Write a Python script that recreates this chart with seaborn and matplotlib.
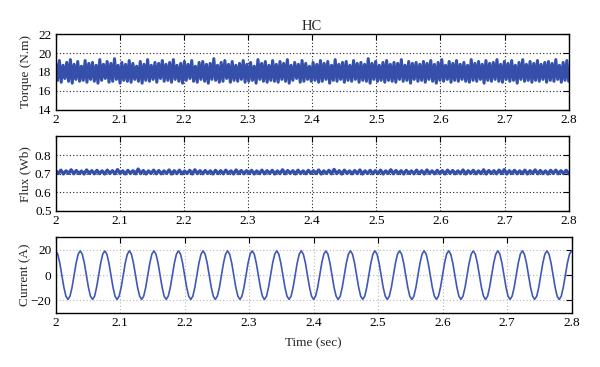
import numpy as np
import matplotlib
matplotlib.use("Agg")
import matplotlib.pyplot as plt
import seaborn as sns

# ---------------- data ----------------
T_START, T_END = 2.0, 2.8

torque = [
    18.9, 17.1, 19.2, 16.9, 18.7, 17.3, 19.0, 17.0, 19.3, 16.8, 18.8, 17.2, 19.1, 17.0, 18.6, 17.1, 19.2, 16.9, 18.9, 17.2,
    19.0, 17.0, 18.7, 16.8, 19.3, 17.1, 18.8, 17.3, 19.1, 16.9, 18.9, 17.0, 19.4, 17.2, 18.7, 16.8, 19.0, 17.1, 18.8, 17.0,
    19.2, 16.9, 18.9, 17.2, 18.6, 17.0, 19.1, 16.8, 18.8, 17.1, 19.3, 17.0, 18.7, 17.2, 19.0, 16.9, 18.9, 17.3, 19.2, 17.0,
    18.8, 17.1, 19.0, 16.9, 19.3, 17.2, 18.7, 17.0, 18.9, 16.8, 19.1, 17.1, 18.8, 17.3, 19.2, 17.0, 18.6, 16.9, 19.0, 17.2,
    19.1, 17.0, 18.8, 16.8, 18.9, 17.2, 19.4, 17.1, 18.7, 16.9, 19.0, 17.0, 19.2, 17.3, 18.8, 16.9, 19.1, 17.1, 18.7, 17.0,
    18.9, 17.2, 19.2, 16.9, 18.8, 17.0, 19.0, 17.1, 18.6, 16.8, 19.3, 17.2, 18.9, 17.0, 19.1, 16.9, 18.7, 17.1, 19.2, 17.0,
    18.8, 16.9, 19.1, 17.2, 18.9, 17.0, 19.3, 16.8, 18.7, 17.1, 19.0, 17.3, 18.8, 16.9, 19.2, 17.0, 18.9, 17.2, 18.6, 17.0,
    19.0, 17.1, 18.8, 16.9, 19.2, 17.0, 18.9, 17.2, 19.1, 16.8, 18.7, 17.1, 19.3, 17.0, 18.8, 17.2, 19.0, 16.9, 19.1, 17.1,
    18.7, 17.0, 19.2, 17.2, 18.9, 16.9, 19.0, 17.1, 18.8, 17.0, 19.4, 16.8, 18.9, 17.2, 19.1, 17.0, 18.7, 17.1, 19.0, 16.9,
    19.2, 17.1, 18.8, 17.0, 19.0, 16.9, 18.9, 17.2, 19.3, 17.0, 18.7, 17.1, 19.1, 16.8, 18.9, 17.2, 19.0, 17.0, 18.8, 17.1,
    19.1, 16.9, 18.9, 17.2, 19.2, 17.0, 18.8, 16.8, 19.0, 17.1, 19.3, 17.0, 18.7, 17.2, 19.1, 16.9, 18.9, 17.1, 19.2, 17.0,
    18.8, 17.2, 19.0, 17.0, 18.7, 16.9, 19.3, 17.1, 18.9, 17.0, 19.1, 17.2, 18.8, 16.8, 19.2, 17.1, 18.9, 17.0, 19.0, 17.2,
    19.3, 17.0, 18.8, 16.9, 19.1, 17.2, 18.9, 17.0, 19.2, 17.1, 18.7, 16.8, 19.0, 17.2, 19.3, 17.0, 18.8, 17.1, 19.1, 16.9,
    18.9, 17.1, 19.2, 17.0, 18.8, 17.2, 19.0, 16.9, 19.1, 17.1, 18.9, 17.0, 19.3, 17.2, 18.7, 16.9, 19.0, 17.1, 19.2, 17.0,
]

flux = [
    0.716, 0.701, 0.719, 0.699, 0.715, 0.702, 0.721, 0.700, 0.717, 0.701, 0.714, 0.699, 0.720, 0.702, 0.716, 0.700, 0.718, 0.701, 0.715, 0.699,
    0.719, 0.702, 0.716, 0.700, 0.722, 0.701, 0.715, 0.699, 0.718, 0.702, 0.716, 0.700, 0.725, 0.701, 0.717, 0.699, 0.715, 0.702, 0.719, 0.700,
    0.717, 0.700, 0.715, 0.702, 0.720, 0.699, 0.716, 0.701, 0.719, 0.700, 0.714, 0.702, 0.718, 0.699, 0.721, 0.701, 0.716, 0.700, 0.717, 0.702,
    0.715, 0.699, 0.718, 0.701, 0.716, 0.700, 0.719, 0.702, 0.715, 0.699, 0.720, 0.701, 0.717, 0.700, 0.716, 0.702, 0.718, 0.699, 0.715, 0.701,
    0.719, 0.700, 0.716, 0.702, 0.718, 0.699, 0.715, 0.701, 0.721, 0.700, 0.717, 0.702, 0.716, 0.699, 0.719, 0.701, 0.715, 0.700, 0.718, 0.702,
    0.716, 0.701, 0.720, 0.699, 0.715, 0.702, 0.718, 0.700, 0.723, 0.701, 0.716, 0.699, 0.719, 0.702, 0.715, 0.700, 0.717, 0.701, 0.720, 0.699,
    0.715, 0.702, 0.718, 0.700, 0.716, 0.701, 0.719, 0.699, 0.715, 0.702, 0.721, 0.700, 0.717, 0.701, 0.716, 0.699, 0.718, 0.702, 0.715, 0.700,
    0.719, 0.701, 0.716, 0.699, 0.720, 0.702, 0.715, 0.700, 0.718, 0.701, 0.716, 0.699, 0.719, 0.702, 0.717, 0.700, 0.715, 0.701, 0.720, 0.699,
    0.716, 0.702, 0.718, 0.700, 0.715, 0.701, 0.721, 0.699, 0.717, 0.702, 0.716, 0.700, 0.719, 0.701, 0.722, 0.699, 0.716, 0.702, 0.718, 0.700,
    0.715, 0.701, 0.719, 0.699, 0.716, 0.702, 0.720, 0.700, 0.717, 0.701, 0.715, 0.699, 0.718, 0.702, 0.719, 0.700, 0.716, 0.701, 0.718, 0.700,
]

current = [
    19.3, 16.7, 9.7, 0.0, -9.6, -16.6, -19.2, -16.6, -9.6, 0.1, 9.7, 16.7,
    19.3, 16.6, 9.6, -0.1, -9.7, -16.7, -19.2, -16.7, -9.6, 0.0, 9.6, 16.7,
    19.2, 16.7, 9.7, 0.0, -9.6, -16.7, -19.3, -16.6, -9.7, 0.1, 9.7, 16.6,
    19.3, 16.7, 9.6, 0.0, -9.7, -16.6, -19.2, -16.7, -9.6, 0.0, 9.7, 16.7,
    19.3, 16.6, 9.7, -0.1, -9.6, -16.7, -19.2, -16.6, -9.7, 0.1, 9.6, 16.7,
    19.2, 16.7, 9.6, 0.0, -9.7, -16.6, -19.3, -16.7, -9.6, 0.0, 9.7, 16.6,
    19.3, 16.7, 9.7, 0.1, -9.6, -16.7, -19.2, -16.6, -9.7, -0.1, 9.6, 16.7,
    19.3, 16.6, 9.6, 0.0, -9.7, -16.6, -19.2, -16.7, -9.6, 0.1, 9.7, 16.7,
    19.2, 16.7, 9.7, 0.0, -9.6, -16.7, -19.3, -16.6, -9.6, 0.0, 9.6, 16.6,
    19.3, 16.7, 9.6, -0.1, -9.7, -16.6, -19.2, -16.7, -9.7, 0.1, 9.7, 16.7,
    19.3, 16.6, 9.7, 0.0, -9.6, -16.7, -19.2, -16.6, -9.6, 0.0, 9.7, 16.7,
    19.2, 16.7, 9.6, 0.1, -9.7, -16.6, -19.3, -16.7, -9.7, -0.1, 9.6, 16.6,
    19.3, 16.7, 9.7, 0.0, -9.6, -16.7, -19.2, -16.6, -9.6, 0.1, 9.7, 16.7,
    19.3, 16.6, 9.6, 0.0, -9.7, -16.6, -19.2, -16.7, -9.6, 0.0, 9.6, 16.7,
    19.2, 16.7, 9.7, -0.1, -9.6, -16.7, -19.3, -16.6, -9.7, 0.1, 9.7, 16.6,
    19.3, 16.7, 9.6, 0.0, -9.7, -16.6, -19.2, -16.7, -9.6, 0.0, 9.7, 16.7,
    19.3, 16.6, 9.7, 0.1, -9.6, -16.7, -19.2, -16.6, -9.7, -0.1, 9.6, 16.7,
    19.2, 16.7, 9.6, 0.0, -9.7, -16.6, -19.3, -16.7, -9.6, 0.1, 9.7, 16.6,
    19.3, 16.7, 9.7, 0.0, -9.6, -16.7, -19.2, -16.6, -9.6, 0.0, 9.6, 16.7,
    19.3, 16.6, 9.6, -0.1, -9.7, -16.6, -19.2, -16.7, -9.7, 0.1, 9.7, 16.7,
    19.2, 16.7, 9.7, 0.0, -9.6, -16.7, -19.3, -16.6, -9.6, 0.0, 9.6, 16.6,
    19.3,
]

x_ticks = [2.0, 2.1, 2.2, 2.3, 2.4, 2.5, 2.6, 2.7, 2.8]
x_tick_labels = ["2", "2.1", "2.2", "2.3", "2.4", "2.5", "2.6", "2.7", "2.8"]
torque_ticks = [14, 16, 18, 20, 22]
flux_ticks = [0.5, 0.6, 0.7, 0.8]
flux_tick_labels = ["0.5", "0.6", "0.7", "0.8"]
current_ticks = [-20, 0, 20]

# sample times (uniform sampling of each recorded signal)
t_torque = np.linspace(T_START, T_END, len(torque))
t_flux = np.linspace(T_START, T_END, len(flux))
t_current = np.linspace(T_START, T_END, len(current))

# ---------------- style ----------------
sns.set_style("white")
plt.rcParams["font.family"] = ["Liberation Serif", "DejaVu Serif"]
plt.rcParams["axes.linewidth"] = 1.0

BLUE = "#3550ab"
BLUE_C = "#4058b8"
FS = 9.5

fig = plt.figure(figsize=(6, 3.67), dpi=100)
ax1 = fig.add_axes([0.0928, 0.7016, 0.855, 0.2052])
ax2 = fig.add_axes([0.0928, 0.4251, 0.855, 0.2030])
ax3 = fig.add_axes([0.0928, 0.1471, 0.8597, 0.2063])

sns.lineplot(x=t_torque, y=torque, ax=ax1, color=BLUE, linewidth=2.2,
             estimator=None, errorbar=None)
sns.lineplot(x=t_flux, y=flux, ax=ax2, color=BLUE, linewidth=2.4,
             estimator=None, errorbar=None)
sns.lineplot(x=t_current, y=current, ax=ax3, color=BLUE_C, linewidth=1.2,
             estimator=None, errorbar=None)

for ax in (ax1, ax2, ax3):
    ax.set_xlim(T_START, T_END)
    ax.set_xticks(x_ticks)
    ax.set_xticklabels(x_tick_labels)
    ax.tick_params(direction="in", top=True, right=True, length=4, width=0.8,
                   labelsize=FS, pad=3, colors="black")
    for s in ax.spines.values():
        s.set_color("black")
        s.set_linewidth(1.0)

ax1.set_ylim(14, 22)
ax1.set_yticks(torque_ticks)
ax2.set_ylim(0.5, 0.9)
ax2.set_yticks(flux_ticks)
ax2.set_yticklabels(flux_tick_labels)
ax3.set_ylim(-30, 30)
ax3.set_yticks(current_ticks)

for ax in (ax1, ax2):
    ax.grid(True, linestyle=(0, (1, 2)), color="#222222", linewidth=0.8)
ax3.grid(True, linestyle=(0, (1, 2)), color="#b8b8b8", linewidth=0.8)
for ax in (ax1, ax2, ax3):
    ax.set_axisbelow(True)

ax1.set_ylabel("Torque (N.m)", fontsize=FS)
ax2.set_ylabel("Flux (Wb)", fontsize=FS)
ax3.set_ylabel("Current (A)", fontsize=FS)
for ax in (ax1, ax2, ax3):
    ax.yaxis.set_label_coords(-0.047, 0.5)

ax1.set_title("HC", fontsize=10.5, pad=3)
ax3.set_xlabel("Time (sec)", fontsize=FS, labelpad=6)

fig.savefig("out.png", dpi=100)
